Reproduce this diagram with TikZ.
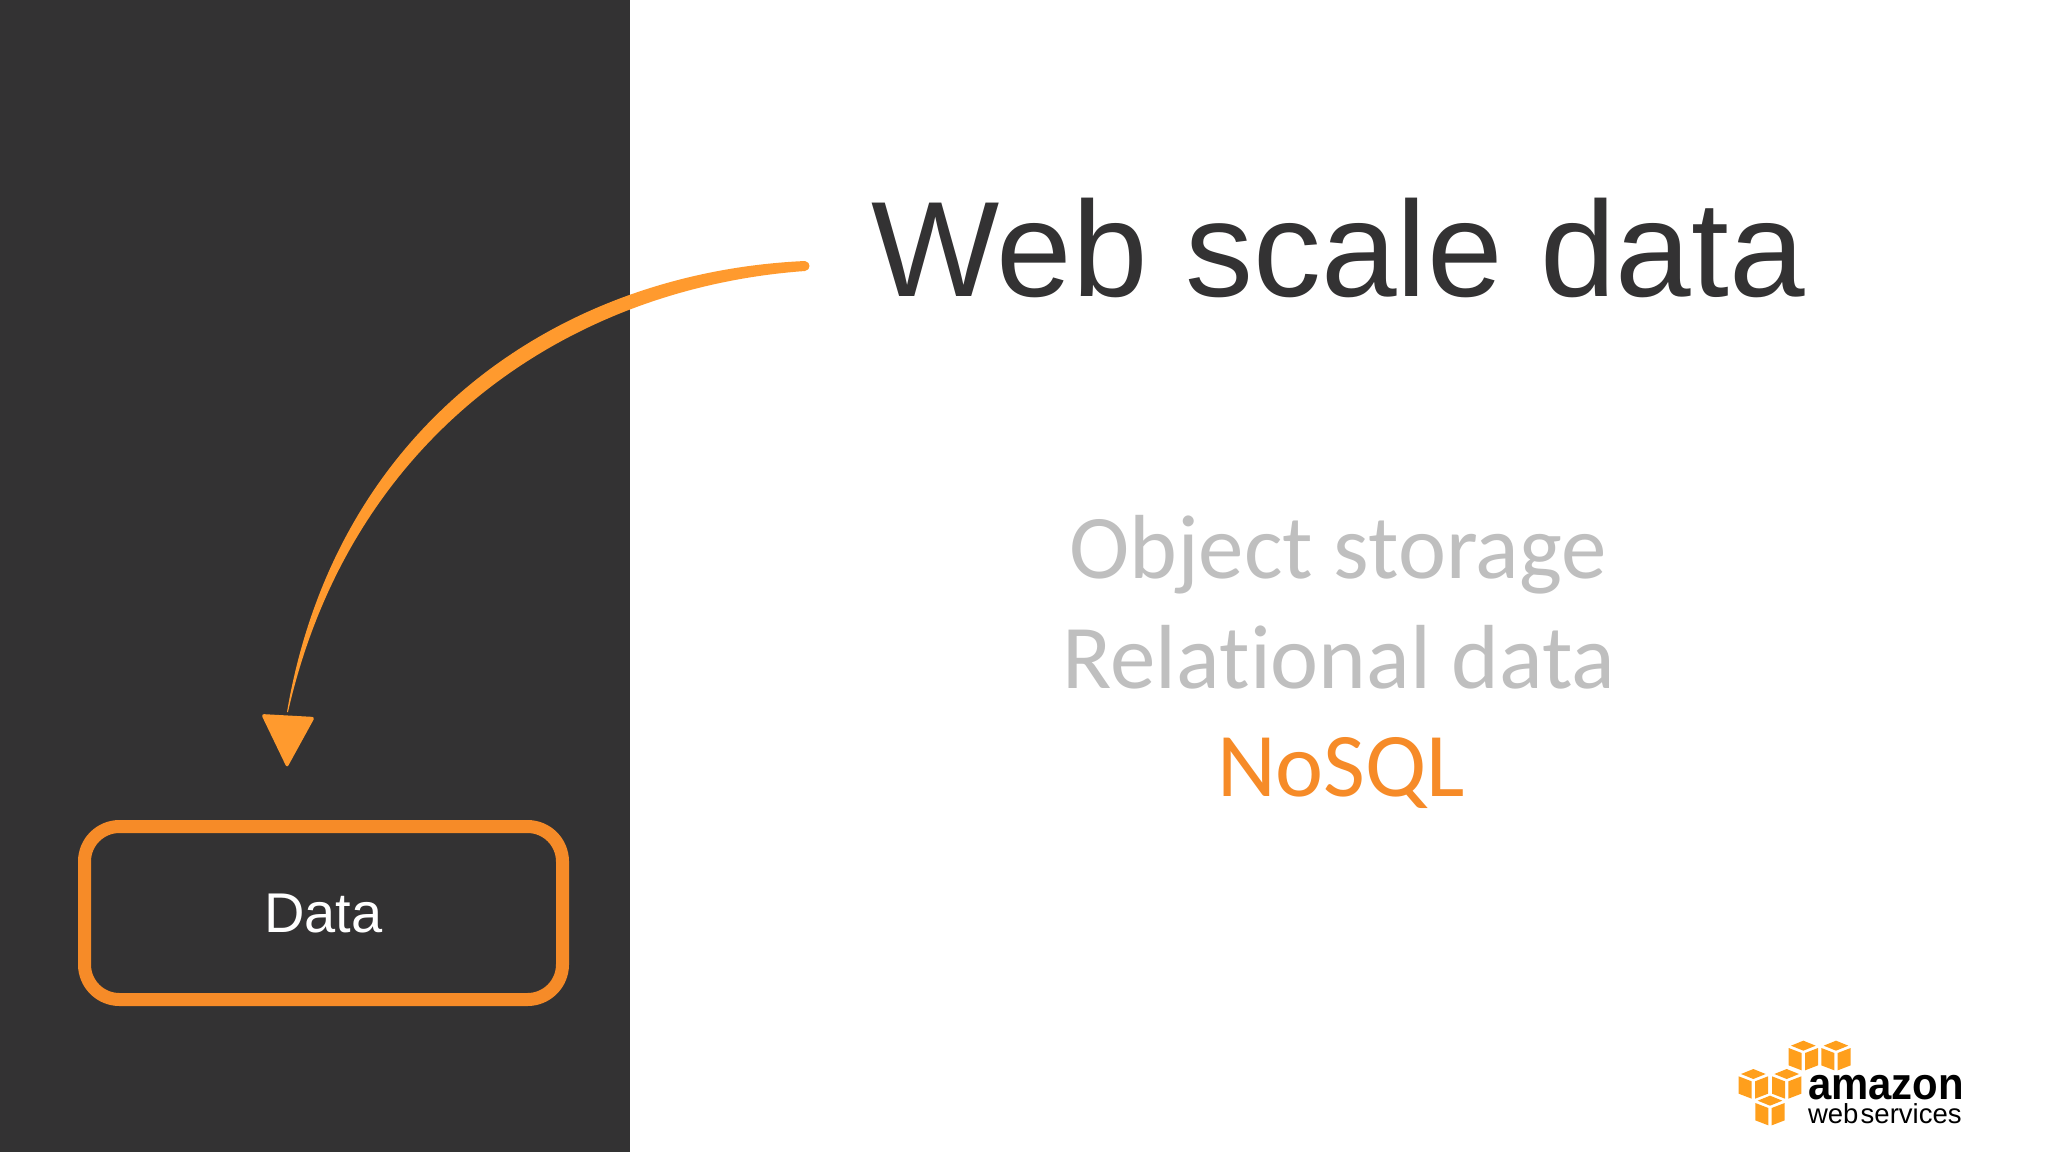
\documentclass[tikz,border=0pt]{standalone}
\usepackage{fontspec}
\setmainfont{Liberation Sans}
\newfontfamily\calfont[Ligatures=NoCommon]{Carlito}
\newfontfamily\logofont[WordSpace=0.3]{Liberation Sans}
\definecolor{panel}{HTML}{333233}
\definecolor{stroke}{HTML}{FF9A2E}
\definecolor{boxorange}{HTML}{F68B28}
\definecolor{greytext}{HTML}{BFBFBF}
\definecolor{logoorange}{HTML}{FF9F1C}
\tikzset{
  x=1pt,y=-1pt,
  label/.style={anchor=base,inner sep=0pt,outer sep=0pt},
  titletext/.style={label,text=panel,font=\fontsize{135.8}{160}\selectfont},
  listtext/.style={label,text=greytext,font=\calfont\fontsize{91}{100}\selectfont},
  databox/.style={draw=boxorange,line width=13pt,rounded corners=35pt,minimum width=478pt,minimum height=173pt,inner sep=0pt,text=white,font=\fontsize{56}{60}\selectfont},
  brush/.style={fill=stroke,draw=none},
  cubeface/.style={fill=logoorange,draw=none},
  pics/awscube/.style={code={
    \fill[cubeface] (-44/3,-21/3) -- (-5/3,-6/3) -- (-5/3,46/3) -- (-44/3,31/3) -- cycle;
    \fill[cubeface] (44/3,-21/3) -- (5/3,-6/3) -- (5/3,46/3) -- (44/3,31/3) -- cycle;
    \fill[cubeface] (0,-43/3) -- (37/3,-28/3) -- (0,-13/3) -- (-37/3,-28/3) -- cycle;
  }}
}
\begin{document}
\begin{tikzpicture}
\useasboundingbox (0,0) rectangle (2048,1152);
\fill[white] (0,0) rectangle (2048,1152);
\fill[panel] (0,0) rectangle (630,1152);
% brush stroke
\coordinate (strokestart) at (805,261);
\coordinate (strokeend) at (287,712);
\fill[brush] (strokestart) .. controls (560,272) and (336,424) .. (strokeend)
  -- (288,712) .. controls (351,434) and (570,288) .. (805,271)
  .. controls (811,270) and (811,262) .. (strokestart) -- cycle;
\fill[brush,rounded corners=3pt] (261,714) -- (315,717) -- (287,768) -- cycle;
% texts
\node[titletext] (title) at (1338,296) {Web scale data};
\node[listtext] (obj) at (1338,578.5) {Object storage};
\node[listtext] (rel) at (1339,688) {Relational data};
\node[listtext,text=boxorange] (nosql) at (1341,796.5) {NoSQL};
\node[databox] (data) at (323.5,913) {\raisebox{-3.5pt}{Data}};
% logo
\pic at ({1700+310/3},{1020+105/3}) {awscube};
\pic at ({1700+408/3},{1020+105/3}) {awscube};
\pic at ({1700+160/3},{1020+190/3}) {awscube};
\pic at ({1700+260/3},{1020+190/3}) {awscube};
\pic at ({1700+210/3},{1020+270/3}) {awscube};
\node[label,anchor=base west,text=black,xscale=0.93] (amazon) at (1808,1099) {\fontsize{45}{50}\selectfont\bfseries amazon};
\node[label,anchor=base west,text=black] (aws) at (1808,1123) {\logofont\fontsize{27.5}{32}\selectfont web services};
\end{tikzpicture}
\end{document}
